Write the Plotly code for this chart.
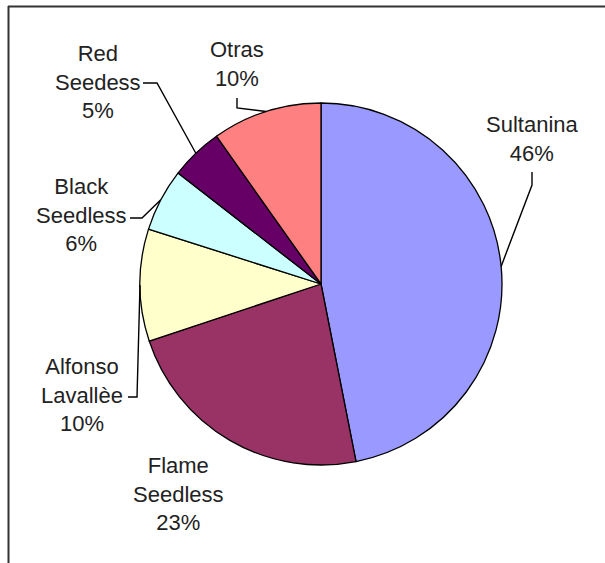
import math
import plotly.graph_objects as go

# ---- data ----
varieties = ["Sultanina", "Flame Seedless", "Alfonso Lavallèe", "Black Seedless", "Red Seedess", "Otras"]
shares = [46.9, 23.0, 10.0, 5.6, 4.7, 9.8]          # slice sizes
pct_labels = ["46%", "23%", "10%", "6%", "5%", "10%"]  # printed percentages
name_lines = ["Sultanina", "Flame<br>Seedless", "Alfonso<br>Lavallèe",
              "Black<br>Seedless", "Red<br>Seedess", "Otras"]
colors = ["#9999FF", "#993366", "#FFFFCC", "#CCFFFF", "#660066", "#FF8080"]

W, H = 605, 563
CX, CY, R = 321, 284, 181  # pie centre / radius in pixels

def px(x):
    return x / W

def py(y):
    return 1 - y / H

fig = go.Figure(go.Pie(
    labels=varieties, values=shares, sort=False, direction="clockwise", rotation=0,
    marker=dict(colors=colors, line=dict(color="#000000", width=1.3)),
    textinfo="none", hoverinfo="label+percent", showlegend=False,
    domain=dict(x=[px(CX - R), px(CX + R)], y=[py(CY + R), py(CY - R)]),
))

# label placement (pixels): centre x, centre y, leader start points (or None)
label_pos = {
    "Sultanina": (532, 139, [(532, 172), (532, 185)]),
    "Flame Seedless": (178, 494, None),
    "Alfonso Lavallèe": (82, 395, [(128, 397), (137, 397)]),
    "Black Seedless": (82, 215, [(130, 218), (142, 218)]),
    "Red Seedess": (98, 82, [(143, 83), (157, 83)]),
    "Otras": (237, 64, [(237, 98), (237, 108)]),
}

total = sum(shares)
cum = 0
shapes = []
annotations = []
for name, v, nl, pl in zip(varieties, shares, name_lines, pct_labels):
    mid = 2 * math.pi * (cum + v / 2) / total
    cum += v
    ex = CX + R * math.sin(mid)
    ey = CY - R * math.cos(mid)
    lx, ly, lead = label_pos[name]
    annotations.append(dict(
        x=px(lx), y=py(ly), xref="paper", yref="paper", text=f"{nl}<br>{pl}", showarrow=False,
        xanchor="center", yanchor="middle", align="center",
        font=dict(family="Liberation Sans, Arial, sans-serif", size=22, color="#222222"),
    ))
    if lead:
        pts = lead + [(ex, ey)]
        path = "M " + " L ".join(f"{px(a):.5f},{py(b):.5f}" for a, b in pts)
        shapes.append(dict(type="path", xref="paper", yref="paper", path=path,
                           line=dict(color="#000000", width=1.4)))

# frame (top and left edges visible)
shapes.append(dict(type="line", xref="paper", yref="paper", x0=px(8), x1=1, y0=py(6.5), y1=py(6.5),
                   line=dict(color="#333333", width=2)))
shapes.append(dict(type="line", xref="paper", yref="paper", x0=px(8.5), x1=px(8.5), y0=py(6), y1=0,
                   line=dict(color="#333333", width=2)))

fig.update_layout(
    width=W, height=H, margin=dict(l=0, r=0, t=0, b=0),
    paper_bgcolor="white", plot_bgcolor="white",
    shapes=shapes, annotations=annotations,
)

fig.write_html("out.html")
